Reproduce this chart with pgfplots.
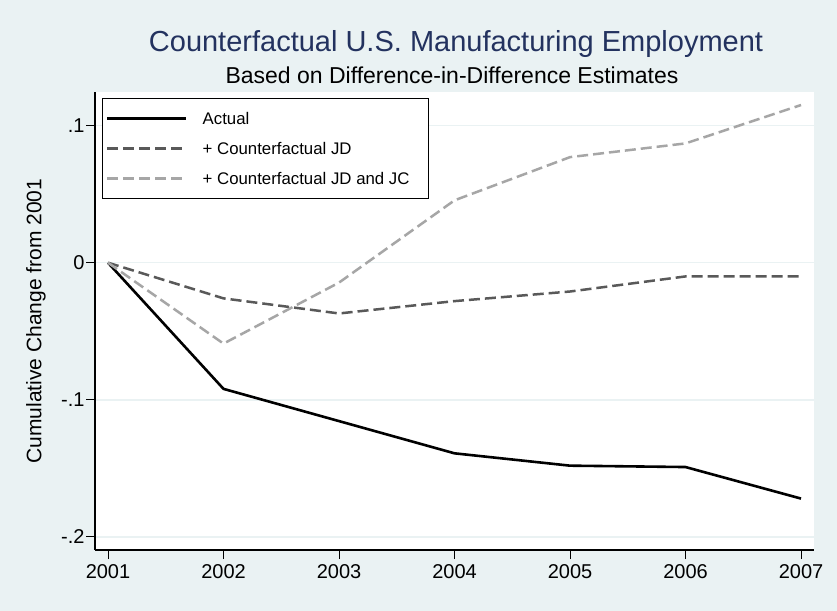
\documentclass[border=0pt]{standalone}
\usepackage{fontspec}
\setmainfont{Liberation Sans}
\usepackage{pgfplots}
\pgfplotsset{compat=1.18}
\definecolor{bgblue}{HTML}{EAF2F3}
\definecolor{titlenavy}{HTML}{23325F}
\definecolor{jdgray}{HTML}{595959}
\definecolor{jcgray}{HTML}{A6A6A6}

\begin{document}
\begin{tikzpicture}
\fill[bgblue] (0,0) rectangle (837bp,611bp);
\useasboundingbox (0,0) rectangle (837bp,611bp);
\begin{axis}[
    at={(95bp,61bp)}, anchor=south west,
    scale only axis, width=719bp, height=458bp,
    xmin=2000.8874, xmax=2007.1126,
    ymin=-0.2095, ymax=0.1245,
    axis background/.style={fill=white},
    axis x line*=bottom, axis y line*=left,
    axis line style={-, line width=1.1bp, black},
    xtick={2001,2002,2003,2004,2005,2006,2007},
    xticklabels={2001,2002,2003,2004,2005,2006,2007},
    ytick={-0.2,-0.1,0,0.1},
    yticklabels={-.2,-.1,0,.1},
    tick align=outside,
    major tick length=9bp,
    tick style={line width=1bp, black},
    ymajorgrids, grid style={bgblue, line width=1.5bp},
    ticklabel style={font=\fontsize{20bp}{24bp}\selectfont},
    yticklabel style={xshift=2bp},
    xticklabel style={yshift=-2bp},
    ylabel={Cumulative Change from 2001},
    ylabel style={font=\fontsize{21bp}{25bp}\selectfont, at={(axis description cs:-0.082,0.5)}, anchor=center},
    legend cell align=left,
    legend image code/.code={\draw[#1] (0bp,0bp) -- (79bp,0bp);},
    legend style={at={(axis description cs:0.0093,0.9862)}, anchor=north west,
        draw=black, line width=0.8bp, fill=white,
        font=\fontsize{16.8bp}{19bp}\selectfont,
        inner xsep=4bp, inner ysep=5bp,
        nodes={inner xsep=4bp, inner ysep=0bp, minimum height=30bp},
        /tikz/every odd column/.append style={column sep=11bp}},
  ]
  \addplot[black, line width=2.6bp, line join=round] coordinates {
    (2001,0) (2002,-0.092) (2003,-0.1155) (2004,-0.139) (2005,-0.148) (2006,-0.149) (2007,-0.172)};
  \addlegendentry{Actual}
  \addplot[jdgray, line width=2.5bp, line join=round, dash pattern=on 11bp off 5bp] coordinates {
    (2001,0) (2002,-0.026) (2003,-0.037) (2004,-0.028) (2005,-0.021) (2006,-0.010) (2007,-0.010)};
  \addlegendentry{+ Counterfactual JD}
  \addplot[jcgray, line width=2.5bp, line join=round, dash pattern=on 11bp off 5bp] coordinates {
    (2001,0) (2002,-0.059) (2003,-0.0145) (2004,0.0455) (2005,0.077) (2006,0.087) (2007,0.115)};
  \addlegendentry{+ Counterfactual JD and JC\hspace*{11bp}\mbox{}}
\end{axis}
\node[anchor=base, text=titlenavy, font=\fontsize{29bp}{34bp}\selectfont] at (456bp,559.3bp) {Counterfactual U.S. Manufacturing Employment};
\node[anchor=base, font=\fontsize{23bp}{27bp}\selectfont] at (452bp,527.7bp) {Based on Difference-in-Difference Estimates};
\end{tikzpicture}
\end{document}
